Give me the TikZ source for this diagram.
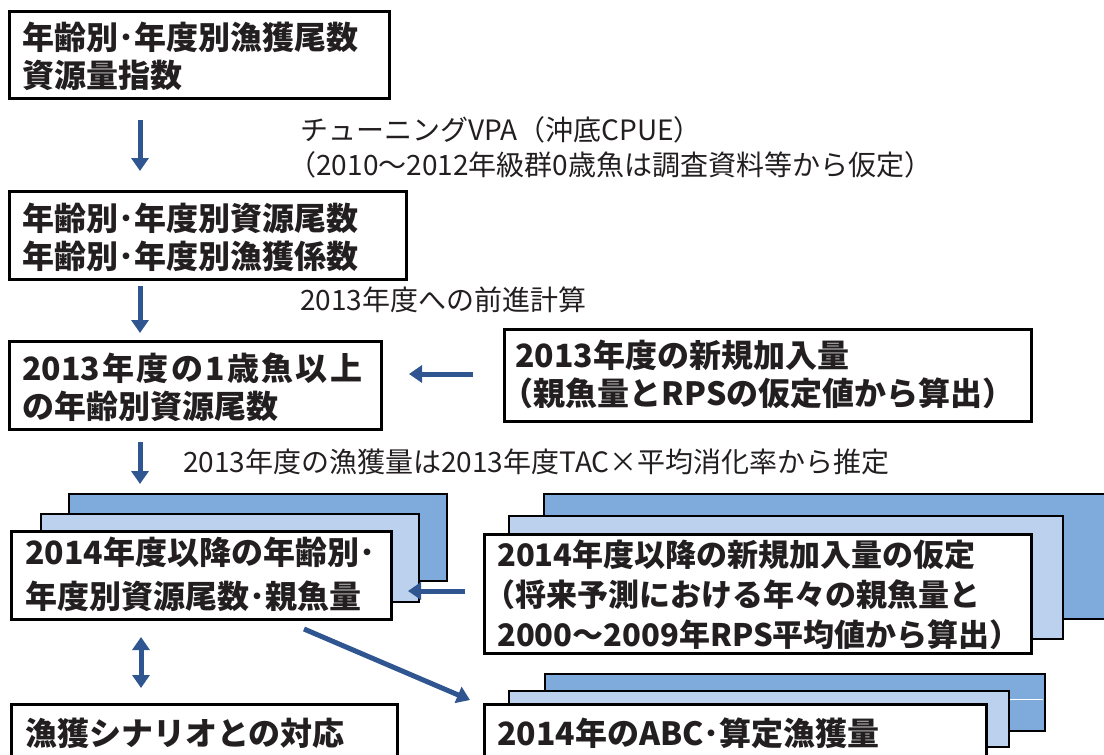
\documentclass[tikz,border=0pt]{standalone}
\usepackage{fontspec}
\setmainfont{Noto Sans CJK JP}
\usetikzlibrary{arrows.meta}
\definecolor{arrblue}{HTML}{2F5690}
\definecolor{darkbox}{HTML}{7FABDC}
\definecolor{lightbox}{HTML}{BBD1ED}
\definecolor{ink}{HTML}{231F20}
\newcommand{\lp}{\kern-0.42em（}
\begin{document}
\begin{tikzpicture}[x=1pt,y=-1pt,
  box/.style={draw=black, line width=3pt, fill=white, anchor=north west, inner sep=0pt},
  backdark/.style={draw=black, line width=2pt, fill=darkbox, anchor=north west, inner sep=0pt},
  backlight/.style={draw=black, line width=2pt, fill=lightbox, anchor=north west, inner sep=0pt},
  bt/.style={font=\bfseries\fontsize{32}{38}\selectfont, text=ink, inner sep=0pt, anchor=west, align=left},
  lt/.style={font=\fontsize{28}{35}\selectfont, text=ink, inner sep=0pt, anchor=west, align=left},
  arr/.style={draw=arrblue, line width=5pt, -{Triangle[width=17pt,length=13pt]}},
  darr/.style={draw=arrblue, line width=5pt, {Triangle[width=17pt,length=13pt]}-{Triangle[width=17pt,length=13pt]}},
]
\useasboundingbox (0,0) rectangle (1104,755);
\clip (0,0) rectangle (1104,755);

% boxes
\node[box, minimum width=380pt, minimum height=87pt] (b1) at (8,10) {};
\node[box, minimum width=397pt, minimum height=88pt] (b2) at (8,190) {};
\node[box, minimum width=372pt, minimum height=88pt] (b3) at (8,340) {};
\node[box, minimum width=527pt, minimum height=92pt] (b4) at (503,328) {};

\node[backdark, minimum width=378pt, minimum height=87pt] (b5c) at (68,493) {};
\node[backlight, minimum width=378pt, minimum height=88pt] (b5b) at (40,513) {};
\node[box, minimum width=380pt, minimum height=88pt] (b5a) at (10,530) {};

\node[backdark, minimum width=580pt, minimum height=125pt] (b6c) at (543,493) {};
\node[backlight, minimum width=554pt, minimum height=123pt] (b6b) at (508,515) {};
\node[box, minimum width=547pt, minimum height=119pt] (b6a) at (483,533) {};

\node[box, minimum width=386pt, minimum height=80pt] (b7) at (10,703) {};

\node[backdark, minimum width=500pt, minimum height=57pt] (b8c) at (544,673) {};
\draw[white, line width=1pt] (1010,699) -- (1043,699);
\node[backlight, minimum width=500pt, minimum height=56pt] (b8b) at (508,690) {};
\node[box, minimum width=502pt, minimum height=80pt] (b8a) at (483,703) {};

% box texts
\node[bt] (t1) at (22,56.5) {年齢別･年度別漁獲尾数\\資源量指数};
\node[bt] (t2) at (22,237) {年齢別･年度別資源尾数\\年齢別･年度別漁獲係数};
\node[bt] (t3) at (22,387.5) {\makebox[340pt][s]{2013\hfill 年\hfill 度\hfill の\hfill 1\hfill 歳\hfill 魚\hfill 以\hfill 上}\\の年齢別資源尾数};
\node[bt] (t4) at (515,374) {2013年度の新規加入量\\\lp 親魚量とRPSの仮定値から算出）};
\node[bt, font=\bfseries\fontsize{32}{44}\selectfont] (t5) at (25,574) {2014年度以降の年齢別･\\年度別資源尾数･親魚量};
\node[bt, font=\bfseries\fontsize{31}{40}\selectfont] (t6) at (497,595) {2014年度以降の新規加入量の仮定\\\lp 将来予測における年々の親魚量と\\2000～2009年RPS平均値から算出）};
\node[bt] (t7) at (25,733) {漁獲シナリオとの対応};
\node[bt] (t8) at (497,733) {2014年のABC･算定漁獲量};

% labels
\node[lt] (l1) at (300,147.5) {チューニングVPA（沖底CPUE）\\\lp 2010～2012年級群0歳魚は調査資料等から仮定）};
\node[lt] (l2) at (300,300) {2013年度への前進計算};
\node[lt] (l3) at (183,462) {2013年度の漁獲量は2013年度TAC×平均消化率から推定};

% arrows
\coordinate (a1s) at (140,120); \coordinate (a1e) at (140,171);
\coordinate (a2s) at (140,286); \coordinate (a2e) at (140,333);
\coordinate (a3s) at (140,442); \coordinate (a3e) at (140,484);
\coordinate (a4s) at (473,374); \coordinate (a4e) at (409,374);
\coordinate (a5s) at (465,591); \coordinate (a5e) at (408,591);
\coordinate (a6s) at (141,637); \coordinate (a6e) at (141,688);
\coordinate (a7s) at (304,629); \coordinate (a7e) at (470,700);
\draw[arr] (a1s) -- (a1e);
\draw[arr] (a2s) -- (a2e);
\draw[arr] (a3s) -- (a3e);
\draw[arr] (a4s) -- (a4e);
\draw[arr] (a5s) -- (a5e);
\draw[darr] (a6s) -- (a6e);
\draw[arr] (a7s) -- (a7e);
\end{tikzpicture}
\end{document}
